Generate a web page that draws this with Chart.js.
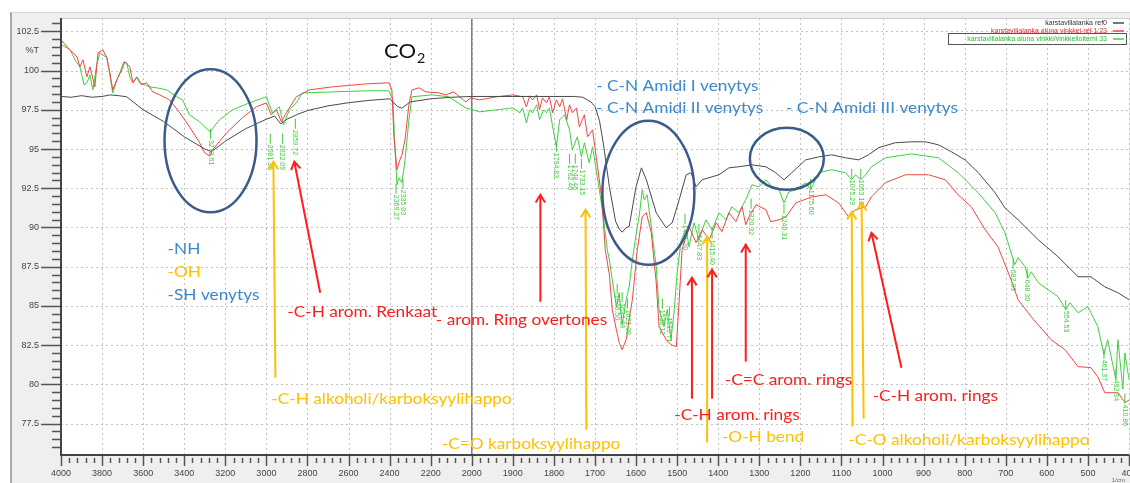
<!DOCTYPE html>
<html>
<head>
<meta charset="utf-8">
<script src="https://cdn.jsdelivr.net/npm/chart.js@4.4.1/dist/chart.umd.min.js"></script>
<style>
html, body { margin: 0; padding: 0; background: #fff; }
canvas { display: block; }
</style>
</head>
<body>
<canvas id="chart" width="1130" height="483"></canvas>
<script>
// --- spectra (wavenumber cm-1, %T) ---
var refWn = [4000,3950,3900,3850,3800,3760,3720,3680,3600,3500,3400,3300,3270,3250,3200,3100,3000,2960,2930,2900,2850,2800,2700,2600,2500,2400,2385,2360,2340,2320,2300,2200,2100,2000,1900,1800,1750,1730,1710,1700,1689,1680,1665,1650,1641,1634,1624,1617,1600,1587,1575,1551,1527,1512,1495,1478,1466,1454,1439,1415,1398,1374,1350,1318,1284,1260,1240,1221,1187,1155,1124,1090,1058,1034,1010,969,929,895,864,832,799,767,726,702,670,621,573,524,493,459,427,400];
var refT = [98.35,98.3,98.4,98.3,98.35,98.45,98.4,98.33,97.5,96.75,95.78,95.0,94.85,95.0,95.5,96.3,96.9,97.1,96.6,96.9,97.2,97.45,97.75,97.95,98.1,98.2,98.0,97.7,97.6,97.8,98.0,98.2,98.3,98.35,98.35,98.35,98.35,98.3,98.0,97.7,96.8,95.4,92.6,90.4,89.9,89.7,90.0,90.05,92.6,93.8,93.04,90.94,89.98,90.3,91.77,93.36,93.49,92.59,93.04,93.23,93.36,93.8,93.87,93.99,93.87,93.49,93.04,93.49,94.31,94.5,94.63,94.44,94.31,94.63,95.08,95.4,95.46,95.46,95.27,94.82,94.31,93.5,92.21,91.25,90.49,89.22,88.14,86.86,86.86,86.22,85.84,85.4];

var redWn = [4000,3971,3922,3908,3893,3874,3859,3835,3820,3796,3777,3762,3748,3728,3704,3689,3665,3650,3631,3607,3583,3553,3519,3471,3422,3374,3325,3301,3275,3262,3194,3117,3049,3000,2976,2951,2927,2903,2854,2791,2680,2515,2403,2389,2379,2364,2350,2340,2325,2306,2291,2257,2223,2160,2126,2088,2029,2005,1981,1939,1900,1876,1867,1859,1852,1842,1835,1828,1818,1811,1803,1794,1786,1779,1769,1762,1755,1745,1738,1726,1718,1706,1697,1684,1675,1665,1658,1648,1641,1634,1624,1617,1609,1597,1585,1575,1563,1551,1544,1527,1515,1502,1495,1488,1471,1454,1439,1422,1405,1391,1374,1357,1342,1333,1325,1308,1284,1272,1252,1235,1211,1172,1138,1107,1083,1066,1041,1027,993,944,888,847,816,784,750,719,687,670,638,590,556,524,493,476,459,427,410,400];
var redT = [101.96,101.51,100.87,100.24,100.68,99.6,100.24,98.96,101.13,101.32,100.81,99.85,98.77,99.41,100.05,100.55,100.24,99.22,99.6,99.09,99.22,98.64,98.45,98.13,97.31,96.41,95.4,94.76,94.55,94.95,96.03,96.99,97.69,97.94,97.18,97.5,96.73,97.31,98.33,98.77,98.96,99.15,99.22,98.77,95.78,93.68,94.3,94.63,95.6,97.82,98.77,98.9,98.64,98.58,98.45,98.64,98.0,98.26,98.13,98.33,98.45,98.33,97.69,98.39,98.13,98.45,97.5,98.26,97.94,98.33,97.31,98.13,97.69,98.2,96.86,97.82,97.31,97.62,96.41,97.18,95.78,96.22,94.5,91.95,88.58,86.99,84.76,83.49,82.66,82.21,82.85,84.12,85.4,88.58,90.68,90.94,89.66,86.48,83.68,82.85,82.53,82.4,85.4,88.58,90.05,89.03,89.85,89.22,90.3,89.73,90.94,90.37,91.32,90.17,90.68,91.45,91.13,90.37,90.49,90.68,91.57,91.95,92.08,91.57,90.68,91.13,91.32,91.95,92.85,93.36,93.36,93.04,92.08,91.32,89.85,88.77,86.67,85.4,84.31,82.85,82.21,81.13,81.07,80.49,79.47,79.47,78.84,79.0];

var greenWn = [4000,3971,3956,3932,3908,3888,3874,3859,3845,3826,3811,3791,3777,3762,3748,3728,3714,3694,3680,3665,3650,3631,3617,3592,3568,3534,3485,3437,3408,3374,3325,3286,3272,3252,3228,3165,3083,3000,2971,2937,2917,2888,2854,2825,2680,2515,2403,2384,2374,2364,2355,2340,2325,2306,2291,2194,2112,2029,1981,1939,1900,1883,1876,1867,1859,1852,1842,1835,1825,1818,1811,1803,1794,1786,1774,1762,1755,1743,1733,1726,1714,1706,1697,1682,1670,1665,1658,1648,1641,1634,1624,1617,1609,1600,1592,1585,1580,1573,1563,1551,1544,1532,1524,1515,1507,1500,1490,1478,1471,1459,1447,1430,1415,1398,1381,1367,1350,1333,1318,1301,1284,1269,1252,1240,1228,1211,1187,1175,1155,1124,1090,1075,1066,1053,1041,1027,993,929,864,816,767,726,702,678,670,653,646,638,621,573,554,544,524,500,476,461,452,432,427,415,410,400];
var greenT = [101.64,101.45,101.32,100.68,100.24,99.09,99.22,99.73,98.77,100.37,101.13,100.94,100.87,99.73,98.58,99.41,99.85,100.55,100.49,99.6,99.22,99.54,99.22,99.09,98.96,98.9,98.77,98.33,98.13,97.18,96.73,96.22,96.1,96.48,96.86,97.5,97.94,98.33,97.31,97.69,96.54,97.5,97.94,98.58,98.64,98.71,98.71,98.13,94.95,92.72,93.17,92.85,94.31,96.86,98.33,98.45,98.33,97.62,97.37,97.5,97.62,97.31,97.62,96.67,97.5,97.31,97.82,96.86,97.5,97.31,97.62,96.41,95.14,96.86,97.18,96.22,94.95,95.78,94.5,95.4,94.12,95.14,93.68,91.13,88.58,87.94,86.67,84.95,85.84,83.8,85.4,86.22,87.94,89.54,90.81,92.4,91.77,92.08,90.05,87.5,84.76,83.68,84.76,82.85,84.76,87.12,89.22,89.85,88.77,90.3,89.22,90.49,89.85,90.94,90.49,91.32,90.94,91.77,92.72,92.59,93.04,92.59,92.4,91.57,92.27,92.4,92.85,92.4,93.49,93.68,93.49,93.04,93.36,93.04,93.36,93.87,94.44,94.69,94.44,93.49,92.21,90.94,89.66,87.63,88.07,87.5,86.8,87.18,86.48,85.59,84.76,85.2,84.57,84.95,83.68,81.9,82.85,80.3,82.85,79.7,82.0,80.3];

var seriesNames = ['karstavillalanka ref0', 'karstavillalanka aluna vinkkei ref 1:23', 'karstavillalanka aluna vinkki/vinkkeiloitemi 33'];

// tick labels
var xTickLabels = [4000,3800,3600,3400,3200,3000,2800,2600,2400,2200,2000,1900,1800,1700,1600,1500,1400,1300,1200,1100,1000,900,800,700,600,500,400];
var yTickValues = [77.5,80,82.5,85,87.5,90,92.5,95,97.5,100,101.25,102.5];

// peak labels printed by the instrument software (green)
var peakWn = [3272,2981,2922,2859,2369,2335,1794,1762,1748,1733,1646,1634,1621,1536,1519,1481,1447,1415,1320,1240,1175,1075,1053,682,648,554,461,432,410];
var peakTop = [95.9,95.59,95.59,96.54,92.4,92.72,95.08,94.31,94.31,93.99,86.03,85.5,85.08,85.08,84.6,90.49,89.85,89.54,91.45,91.13,92.72,93.36,93.36,87.63,86.99,85.0,81.89,80.62,79.03];
var peakText = ['3272.61','2981.35','2922.09','2859.72','2369.27','2335.03','1794.83','1762.40','1748.46','1733.15','1646.50','1634.69','1621.09','1536.12','1519.71','1481.20','1447.83','1415.40','1320.32','1240.31','1175.60','1075.29','1053.18','682.83','648.30','554.53','461.37','432.94','410.86'];

var REF_C = '#4a4a4a', RED_C = '#f24545', GREEN_C = '#3fd03f';
var A_BLUE = '#3a8ad0', A_ORANGE = '#ffc000', A_RED = '#ff1c1c', E_BLUE = '#3b5b8a';

// annotations in (wavenumber, %T)
var noteTexts = [
  [3481, 88.64, '-NH', A_BLUE],
  [3481, 87.18, '-OH', A_ORANGE],
  [3481, 85.71, '-SH venytys', A_BLUE],
  [2898, 84.63, '-C-H arom. Renkaat', A_RED],
  [2175, 84.12, '- arom. Ring overtones', A_RED],
  [2976, 79.03, '-C-H alkoholi/karboksyylihappo', A_ORANGE],
  [2146, 76.22, '-C=O karboksyylihappo', A_ORANGE],
  [1697, 99.03, '- C-N Amidi I venytys', A_BLUE],
  [1697, 97.63, '- C-N Amidi II venytys', A_BLUE],
  [1235, 97.63, '- C-N Amidi III venytys', A_BLUE],
  [1384, 80.24, '-C=C arom. rings', A_RED],
  [1507, 78.01, '-C-H arom. rings', A_RED],
  [1391, 76.61, '-O-H bend', A_ORANGE],
  [1024, 79.22, '-C-H arom. rings', A_RED],
  [1083, 76.42, '-C-O alkoholi/karboksyylihappo', A_ORANGE]
];
var noteArrows = [
  [2956, 80.43, 2966, 94.19, A_ORANGE],
  [2738, 85.84, 2864, 94.19, A_RED],
  [1833, 85.27, 1833, 92.08, A_RED],
  [1721, 77.12, 1723, 91.13, A_ORANGE],
  [1464, 79.09, 1464, 86.8, A_RED],
  [1427, 76.29, 1427, 89.41, A_ORANGE],
  [1415, 79.09, 1415, 87.31, A_RED],
  [1333, 81.45, 1333, 88.9, A_RED],
  [1073, 77.31, 1075, 91.0, A_ORANGE],
  [1046, 77.82, 1051, 91.57, A_ORANGE],
  [954, 81.06, 1027, 89.66, A_RED]
];
var noteEllipses = [
  [3272, 95.52, 46, 71.5],
  [1570, 92.21, 46, 72],
  [1233, 94.38, 37, 31]
];

// x axis: 4000-2000 compressed to half scale, 2000-400 full scale
function toU(wn) { return wn >= 2000 ? (4000 - wn) / 2 : 1000 + (2000 - wn); }
function toWn(u) { return u <= 1000 ? 4000 - 2 * u : 2000 - (u - 1000); }

function pts(wn, t) {
  return wn.map(function (w, i) { return { x: toU(w), y: t[i] }; });
}

// the screenshot text is a bit stretched sideways
function wideText(ctx, s, x, y, k) {
  ctx.save();
  ctx.translate(x, y);
  ctx.scale(k, 1);
  ctx.fillText(s, 0, 0);
  var w = ctx.measureText(s).width * k;
  ctx.restore();
  return w;
}

var frame = {
  id: 'frame',
  beforeDraw: function (chart) {
    var ctx = chart.ctx, a = chart.chartArea, xs = chart.scales.x, ys = chart.scales.y;
    ctx.save();
    ctx.fillStyle = '#fff';
    ctx.fillRect(0, 0, chart.width, chart.height);
    ctx.fillStyle = '#efefef';
    ctx.fillRect(11, 12, chart.width - 11, chart.height - 12);
    ctx.strokeStyle = '#a9a9a9'; ctx.lineWidth = 2;
    ctx.beginPath(); ctx.moveTo(11, 12); ctx.lineTo(11, chart.height); ctx.stroke();
    ctx.strokeStyle = '#d6d6d6'; ctx.lineWidth = 1;
    ctx.beginPath(); ctx.moveTo(11, 12.5); ctx.lineTo(chart.width, 12.5); ctx.stroke();
    ctx.fillStyle = '#fff';
    ctx.fillRect(a.left, a.top, a.right - a.left, a.bottom - a.top);

    // dashed grid
    ctx.setLineDash([2, 3]);
    ctx.strokeStyle = '#c2c2c2'; ctx.lineWidth = 1;
    xTickLabels.forEach(function (w) {
      var px = Math.round(xs.getPixelForValue(toU(w))) + 0.5;
      ctx.beginPath(); ctx.moveTo(px, a.top); ctx.lineTo(px, a.bottom); ctx.stroke();
    });
    yTickValues.forEach(function (v) {
      if (v === 101.25) return;
      var py = Math.round(ys.getPixelForValue(v)) + 0.5;
      ctx.beginPath(); ctx.moveTo(a.left, py); ctx.lineTo(a.right, py); ctx.stroke();
    });
    ctx.setLineDash([]);

    // scale break at 2000
    var bx = xs.getPixelForValue(toU(2000));
    ctx.strokeStyle = '#7c7c7c'; ctx.lineWidth = 1.5;
    ctx.beginPath(); ctx.moveTo(bx, a.top); ctx.lineTo(bx, a.bottom); ctx.stroke();

    ctx.strokeStyle = '#cfcfcf'; ctx.lineWidth = 1;
    ctx.beginPath(); ctx.moveTo(a.left, a.top + 0.5); ctx.lineTo(a.right, a.top + 0.5); ctx.stroke();
    ctx.restore();
  },
  afterDatasetsDraw: function (chart) {
    var ctx = chart.ctx, a = chart.chartArea, xs = chart.scales.x, ys = chart.scales.y;
    function px(w) { return xs.getPixelForValue(toU(w)); }
    function py(t) { return ys.getPixelForValue(t); }
    ctx.save();

    // axes + tick marks
    ctx.strokeStyle = '#555'; ctx.lineWidth = 1.5;
    for (var v = 76; v <= 103; v += 0.5) {
      var yy = Math.round(py(v)) + 0.5;
      var major = Math.abs((v - 77.5) / 2.5 - Math.round((v - 77.5) / 2.5)) < 1e-6;
      ctx.beginPath(); ctx.moveTo(a.left - (major ? 20 : 9), yy); ctx.lineTo(a.left, yy); ctx.stroke();
    }
    for (var u = 0; u <= 2600; u += 20) {
      var xx = Math.round(xs.getPixelForValue(u)) + 0.5;
      var maj = u % 100 === 0;
      ctx.beginPath(); ctx.moveTo(xx, a.bottom + (maj ? 0 : 3)); ctx.lineTo(xx, a.bottom + (maj ? 11 : 8)); ctx.stroke();
    }
    ctx.strokeStyle = '#444'; ctx.lineWidth = 2;
    ctx.beginPath(); ctx.moveTo(a.left, a.top); ctx.lineTo(a.left, a.bottom); ctx.lineTo(a.right, a.bottom); ctx.stroke();

    // peak labels
    ctx.fillStyle = '#44c844'; ctx.strokeStyle = '#44c844'; ctx.lineWidth = 1;
    ctx.font = '7px "Liberation Sans", Arial, sans-serif';
    ctx.textAlign = 'left'; ctx.textBaseline = 'middle';
    peakWn.forEach(function (w, i) {
      var x0 = px(w), y0 = py(peakTop[i]);
      ctx.beginPath(); ctx.moveTo(x0, y0 - 6); ctx.lineTo(x0, y0 + 4); ctx.stroke();
      ctx.save();
      ctx.translate(x0, y0 + 5);
      ctx.rotate(Math.PI / 2);
      ctx.fillText(peakText[i], 0, 0);
      ctx.restore();
    });

    // ellipses
    ctx.strokeStyle = E_BLUE; ctx.lineWidth = 2.5;
    noteEllipses.forEach(function (e) {
      ctx.beginPath();
      ctx.ellipse(px(e[0]), py(e[1]), e[2], e[3], 0, 0, Math.PI * 2);
      ctx.stroke();
    });

    // arrows
    ctx.lineWidth = 2;
    noteArrows.forEach(function (r) {
      var x1 = px(r[0]), y1 = py(r[1]), x2 = px(r[2]), y2 = py(r[3]);
      ctx.strokeStyle = r[4];
      ctx.beginPath(); ctx.moveTo(x1, y1); ctx.lineTo(x2, y2); ctx.stroke();
      var ang = Math.atan2(y2 - y1, x2 - x1), L = 9;
      ctx.beginPath();
      ctx.moveTo(x2 - L * Math.cos(ang - 0.55), y2 - L * Math.sin(ang - 0.55));
      ctx.lineTo(x2, y2);
      ctx.lineTo(x2 - L * Math.cos(ang + 0.55), y2 - L * Math.sin(ang + 0.55));
      ctx.stroke();
    });

    // annotation text
    ctx.font = '15px Lato, "Open Sans", sans-serif';
    ctx.textAlign = 'left'; ctx.textBaseline = 'middle';
    noteTexts.forEach(function (n) {
      ctx.fillStyle = n[3];
      wideText(ctx, n[2], px(n[0]), py(n[1]), 1.15);
    });

    // CO2
    ctx.fillStyle = '#111';
    ctx.font = '20px Lato, "Open Sans", sans-serif';
    var cx = px(2427), cy = py(101.19);
    var cw = wideText(ctx, 'CO', cx, cy, 1.1);
    ctx.font = '13px Lato, "Open Sans", sans-serif';
    wideText(ctx, '2', cx + cw + 1, cy + 7, 1.1);

    // legend
    var cols = [REF_C, RED_C, GREEN_C];
    var txtCols = ['#333', '#e83030', '#2fb82f'];
    ctx.font = '7px "Liberation Sans", Arial, sans-serif';
    ctx.textAlign = 'right';
    ctx.strokeStyle = '#555'; ctx.lineWidth = 1;
    ctx.strokeRect(948.5, 33.5, 178, 11);
    seriesNames.forEach(function (s, i) {
      var ly = 23 + i * 8;
      ctx.fillStyle = txtCols[i];
      ctx.fillText(s, 1107, ly);
      ctx.strokeStyle = cols[i]; ctx.lineWidth = 1.5;
      ctx.beginPath(); ctx.moveTo(1113, ly); ctx.lineTo(1124, ly); ctx.stroke();
    });

    ctx.fillStyle = '#666';
    ctx.font = '6px "Liberation Sans", Arial, sans-serif';
    ctx.textAlign = 'left';
    ctx.fillText('1/cm', 1112, 480);
    ctx.restore();
  }
};

var c = document.getElementById('chart');
var tickFont = { family: '"Liberation Sans", Arial, sans-serif', size: 9 };

var chart = new Chart(c, {
  type: 'line',
  data: {
    datasets: [
      { label: seriesNames[0], data: pts(refWn, refT), borderColor: REF_C, borderWidth: 1 },
      { label: seriesNames[1], data: pts(redWn, redT), borderColor: RED_C, borderWidth: 1 },
      { label: seriesNames[2], data: pts(greenWn, greenT), borderColor: GREEN_C, borderWidth: 1 }
    ]
  },
  options: {
    responsive: false,
    animation: false,
    devicePixelRatio: 1,
    layout: { padding: { left: 0, right: 1, top: 18, bottom: 0 } },
    elements: { point: { radius: 0 }, line: { tension: 0 } },
    plugins: { legend: { display: false }, tooltip: { enabled: false } },
    scales: {
      x: {
        type: 'linear', min: 0, max: 2600,
        grid: { display: false, drawTicks: false },
        border: { display: false },
        afterBuildTicks: function (s) { s.ticks = xTickLabels.map(function (w) { return { value: toU(w) }; }); },
        afterFit: function (s) { s.height = 28; s.paddingLeft = 0; s.paddingRight = 0; },
        ticks: { autoSkip: false, maxRotation: 0, padding: 13, color: '#444', font: tickFont,
          callback: function (v) { return String(toWn(v)); } }
      },
      y: {
        type: 'linear', min: 75.5, max: 103.35,
        grid: { display: false, drawTicks: false },
        border: { display: false },
        afterBuildTicks: function (s) { s.ticks = yTickValues.map(function (v) { return { value: v }; }); },
        afterFit: function (s) { s.width = 61; s.paddingTop = 0; s.paddingBottom = 0; },
        ticks: { padding: 22, color: '#444', font: tickFont,
          callback: function (v) { return v === 101.25 ? '%T' : String(v); } }
      }
    }
  },
  plugins: [frame]
});
</script>
</body>
</html>
